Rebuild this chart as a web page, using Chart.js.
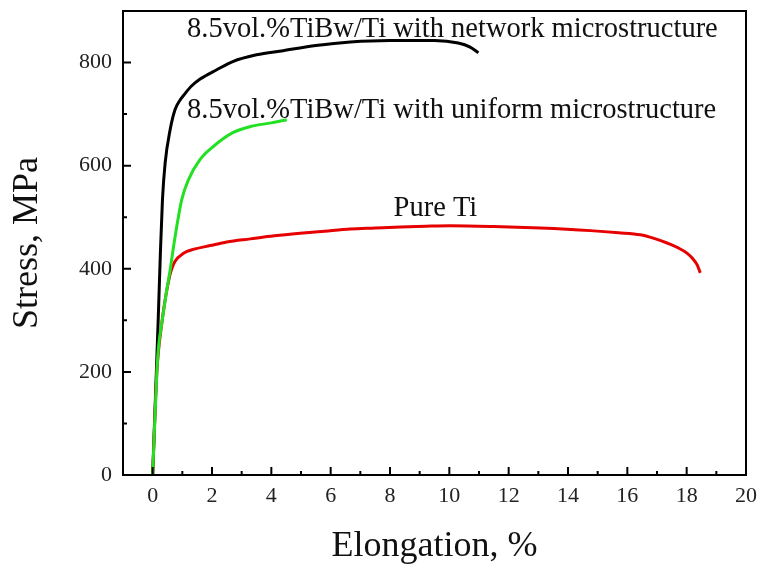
<!DOCTYPE html>
<html>
<head>
<meta charset="utf-8">
<script src="https://cdn.jsdelivr.net/npm/chart.js@4/dist/chart.umd.min.js"></script>
<style>
  html, body { margin: 0; padding: 0; background: #fff; }
  #wrap { width: 763px; height: 565px; position: relative; }
</style>
</head>
<body>
<div id="wrap"><canvas id="chart"></canvas></div>
<script>
// Stress-strain curves (elongation %, stress MPa)
const networkStrain = [0, 0.1, 0.19, 0.26, 0.33, 0.42, 0.59, 0.75, 0.93, 1.04, 1.3, 1.6, 2.16, 2.7, 3.5, 4.4, 5.5, 6.66, 8.0, 9.5, 10.3, 10.7, 10.98];
const networkStress = [0, 160, 307, 430, 534, 605, 670, 708, 728, 736, 754, 768, 786, 802, 815, 823, 833, 840, 843, 843, 838, 830, 819];

const uniformStrain = [0, 0.14, 0.2, 0.31, 0.45, 0.59, 0.75, 0.98, 1.2, 1.6, 2.0, 2.7, 3.3, 4.0, 4.52];
const uniformStress = [0, 198, 250, 295, 350, 398, 460, 534, 572, 612, 635, 664, 676, 683, 689];

const pureStrain = [0, 0.14, 0.31, 0.45, 0.55, 0.62, 0.75, 1.04, 1.4, 1.94, 2.5, 3.29, 4.1, 4.97, 5.8, 6.66, 7.5, 8.35, 9.2, 10.03, 11.5, 13.07, 14.76, 15.7, 16.44, 16.9, 17.34, 17.7, 18.02, 18.2, 18.35, 18.46];
const pureStress = [0, 198, 295, 350, 380, 396, 414, 430, 438, 445, 452, 458, 464, 469, 473, 477, 479, 481, 482.5, 483.5, 482, 479, 474, 470, 466, 459, 450, 441, 430, 420, 408, 392];

const xTicks = [0, 2, 4, 6, 8, 10, 12, 14, 16, 18, 20];
const xMinorTicks = [1, 3, 5, 7, 9, 11, 13, 15, 17, 19];
const yTicks = [0, 200, 400, 600, 800];
const yMinorTicks = [100, 300, 500, 700];

// curve labels: text, anchor (data units, alphabetic baseline)
const labelTexts = ['8.5vol.%TiBw/Ti with network microstructure', '8.5vol.%TiBw/Ti with uniform microstructure', 'Pure Ti'];
const labelX = [1.16, 1.16, 9.53];
const labelY = [850, 693, 503];
const labelAlign = ['left', 'left', 'center'];

const serif = '"Liberation Serif", "DejaVu Serif", serif';

function toPoints(xs, ys) {
    return xs.map((x, i) => ({ x: x, y: ys[i] }));
}

// frame, inward ticks and curve labels
const framePlugin = {
    id: 'frame',
    afterDraw(chart) {
        const ctx = chart.ctx;
        const area = chart.chartArea;
        const xs = chart.scales.x;
        const ys = chart.scales.y;
        ctx.save();
        ctx.strokeStyle = '#000';
        ctx.lineWidth = 2;
        ctx.strokeRect(area.left, area.top, area.right - area.left, area.bottom - area.top);

        ctx.beginPath();
        xTicks.forEach(v => {
            const px = xs.getPixelForValue(v);
            ctx.moveTo(px, area.bottom);
            ctx.lineTo(px, area.bottom - 8);
        });
        xMinorTicks.forEach(v => {
            const px = xs.getPixelForValue(v);
            ctx.moveTo(px, area.bottom);
            ctx.lineTo(px, area.bottom - 4);
        });
        yTicks.forEach(v => {
            const py = ys.getPixelForValue(v);
            ctx.moveTo(area.left, py);
            ctx.lineTo(area.left + 8, py);
        });
        yMinorTicks.forEach(v => {
            const py = ys.getPixelForValue(v);
            ctx.moveTo(area.left, py);
            ctx.lineTo(area.left + 4, py);
        });
        ctx.stroke();

        ctx.fillStyle = '#111';
        ctx.font = '28.5px ' + serif;
        ctx.textBaseline = 'alphabetic';
        labelTexts.forEach((t, i) => {
            ctx.textAlign = labelAlign[i];
            ctx.fillText(t, xs.getPixelForValue(labelX[i]), ys.getPixelForValue(labelY[i]));
        });
        ctx.restore();
    }
};

new Chart(document.getElementById('chart'), {
    type: 'scatter',
    data: {
        datasets: [
            {
                label: 'network',
                data: toPoints(networkStrain, networkStress),
                borderColor: '#000000',
                borderWidth: 3,
                order: 3
            },
            {
                label: 'pure',
                data: toPoints(pureStrain, pureStress),
                borderColor: '#e60000',
                borderWidth: 3,
                order: 2
            },
            {
                label: 'uniform',
                data: toPoints(uniformStrain, uniformStress),
                borderColor: '#22e022',
                borderWidth: 3,
                order: 1
            }
        ]
    },
    options: {
        responsive: true,
        maintainAspectRatio: false,
        animation: false,
        showLine: true,
        elements: {
            point: { radius: 0 },
            line: { tension: 0.3, cubicInterpolationMode: 'monotone' }
        },
        layout: { padding: { top: 11, right: 17, left: 0, bottom: 0 } },
        plugins: {
            legend: { display: false },
            tooltip: { enabled: false }
        },
        scales: {
            x: {
                type: 'linear',
                min: -1,
                max: 20,
                afterBuildTicks: scale => { scale.ticks = xTicks.map(v => ({ value: v })); },
                afterFit: scale => {
                    scale.height = 90;
                    scale.paddingLeft = 0;
                    scale.paddingRight = 0;
                },
                grid: { display: false, drawTicks: false },
                border: { display: false },
                ticks: {
                    color: '#222',
                    font: { family: serif, size: 22 },
                    padding: 8
                },
                title: {
                    display: true,
                    text: 'Elongation, %',
                    color: '#111',
                    font: { family: serif, size: 36, lineHeight: 1 },
                    padding: { top: 0, bottom: 0 }
                }
            },
            y: {
                type: 'linear',
                min: 0,
                max: 900,
                afterBuildTicks: scale => { scale.ticks = yTicks.map(v => ({ value: v })); },
                afterFit: scale => {
                    scale.width = 123;
                    scale.paddingTop = 0;
                    scale.paddingBottom = 0;
                },
                grid: { display: false, drawTicks: false },
                border: { display: false },
                ticks: {
                    color: '#222',
                    font: { family: serif, size: 22 },
                    padding: 11
                },
                title: {
                    display: true,
                    text: 'Stress, MPa',
                    color: '#111',
                    font: { family: serif, size: 36, lineHeight: 1 },
                    padding: { top: 10, bottom: 0 }
                }
            }
        }
    },
    plugins: [framePlugin]
});
</script>
</body>
</html>
